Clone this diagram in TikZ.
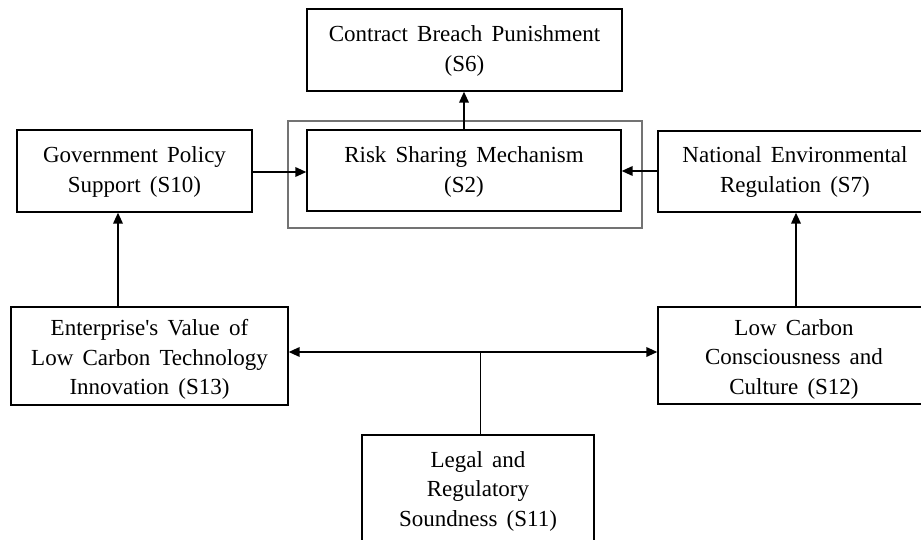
\documentclass[tikz,border=0pt]{standalone}
\usepackage{fontspec}
\setmainfont{Liberation Serif}[WordSpace={1.6}]
\usetikzlibrary{arrows.meta}
\begin{document}
\begin{tikzpicture}[x=1pt,y=-1pt,
  box/.style={draw=black,line width=1.3pt,fill=white,rectangle,inner sep=0pt},
  lbl/.style={align=center,inner sep=0pt,font=\fontsize{23}{30}\selectfont},
  conn/.style={line width=1.9pt,-{Triangle[length=11pt,width=9.5pt]}},
  plain/.style={line width=1pt}]
\useasboundingbox (0,0) rectangle (921,540);
% outer frame around S2
\node[draw=black!55,line width=1.6pt,minimum width=354pt,minimum height=107pt,inner sep=0pt] (frame) at (465,174.5) {};
\node[box,minimum width=314pt,minimum height=81pt,label={[lbl,yshift=-1pt]center:{Risk Sharing Mechanism\\(S2)}}] (S2) at (464,170.5) {};
\node[box,minimum width=315pt,minimum height=82pt,label={[lbl,yshift=-1pt]center:{Contract Breach Punishment\\(S6)}}] (S6) at (464.5,50) {};
\node[box,minimum width=235pt,minimum height=82pt,label={[lbl,yshift=-1pt]center:{Government Policy\\Support (S10)}}] (S10) at (134.5,171) {};
\node[box,minimum width=272pt,minimum height=81pt,label={[lbl,yshift=-1pt,xshift=1pt]center:{National Environmental\\Regulation (S7)}}] (S7) at (794,171.5) {};
\node[box,minimum width=277pt,minimum height=98pt,label={[lbl,font=\fontsize{23}{29.5}\selectfont,yshift=-3.5pt]center:{Enterprise\textquotesingle s Value of\\Low Carbon Technology\\Innovation (S13)}}] (S13) at (149.5,356) {};
\node[box,minimum width=272pt,minimum height=97pt,label={[lbl,font=\fontsize{23}{29.5}\selectfont,yshift=-3.5pt]center:{Low Carbon\\Consciousness and\\Culture (S12)}}] (S12) at (794,355.5) {};
\node[box,minimum width=232pt,minimum height=120pt] (S11) at (478,495) {};
\node[lbl,font=\fontsize{23}{29.5}\selectfont,anchor=north] (S11t) at (478,451) {Legal and\\Regulatory\\Soundness (S11)};
% connectors
\draw[conn] (S2.north) -- (S2.north |- S6.south);
\draw[conn] (S10.east |- 0,172) -- (S2.west |- 0,172);
\draw[conn] (S7.west |- 0,171) -- (S2.east |- 0,171);
\draw[conn] (S13.north -| 118,0) -- (118,0 |- S10.south);
\draw[conn] (S12.north -| 796,0) -- (796,0 |- S7.south);
\coordinate (J) at (480,352);
\draw[line width=1.9pt,{Triangle[length=11pt,width=9.5pt]}-{Triangle[length=11pt,width=9.5pt]}] (S13.east |- J) -- (S12.west |- J);
\draw[plain] (J) -- (J |- S11.north);
\end{tikzpicture}
\end{document}
